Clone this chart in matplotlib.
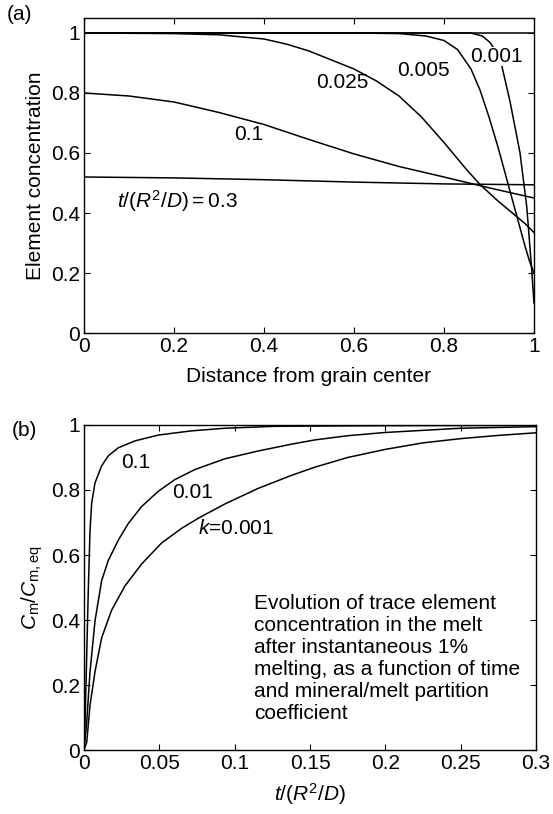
import numpy as np
import matplotlib.pyplot as plt

plt.rcParams['font.family'] = ['Liberation Sans', 'DejaVu Sans']
plt.rcParams['mathtext.fontset'] = 'custom'
plt.rcParams['mathtext.rm'] = 'Liberation Sans'
plt.rcParams['mathtext.it'] = 'Liberation Sans:italic'
plt.rcParams['font.size'] = 15

# (a) concentration profiles across the grain, one per dimensionless time
dist_0 = [0, 1]
conc_0 = [1, 1]

dist_001 = [0, 0.86, 0.885, 0.902, 0.924, 0.947, 0.969, 0.984, 0.995, 1.0]
conc_001 = [1, 1, 0.99, 0.969, 0.92, 0.77, 0.60, 0.42, 0.21, 0.10]

dist_005 = [0, 0.6, 0.7, 0.76, 0.8, 0.83, 0.86, 0.88, 0.9, 0.92, 0.94, 0.96, 0.98, 0.99, 1.0]
conc_005 = [1, 1, 0.998, 0.99, 0.975, 0.945, 0.88, 0.81, 0.72, 0.62, 0.51, 0.40, 0.29, 0.24, 0.20]

dist_025 = [0, 0.2, 0.3, 0.4, 0.45, 0.5, 0.55, 0.6, 0.65, 0.7, 0.75, 0.8, 0.85,
            0.88, 0.92, 0.96, 0.98, 1.0]
conc_025 = [1, 0.998, 0.994, 0.98, 0.963, 0.94, 0.91, 0.88, 0.84, 0.79, 0.72, 0.635, 0.545,
            0.495, 0.44, 0.39, 0.365, 0.335]

dist_1 = [0, 0.1, 0.2, 0.3, 0.4, 0.5, 0.6, 0.7, 0.8, 0.9, 1.0]
conc_1 = [0.80, 0.79, 0.77, 0.735, 0.695, 0.645, 0.597, 0.555, 0.52, 0.484, 0.45]

dist_3 = [0, 0.2, 0.4, 0.6, 0.8, 1.0]
conc_3 = [0.52, 0.517, 0.511, 0.503, 0.497, 0.494]

# (b) melt concentration vs time for three partition coefficients
t_k1 = [0, 0.0007, 0.0018, 0.0029, 0.004, 0.0051, 0.0073, 0.0117, 0.0161, 0.0228,
        0.0338, 0.0493, 0.0714, 0.0935, 0.127, 0.2, 0.3]
cm_k1 = [0, 0.086, 0.293, 0.5, 0.677, 0.76, 0.822, 0.874, 0.905, 0.93,
         0.951, 0.969, 0.982, 0.99, 0.996, 0.998, 0.999]

t_k01 = [0, 0.0018, 0.004, 0.0073, 0.0117, 0.0161, 0.0228, 0.0294, 0.0382, 0.0493,
         0.0603, 0.0736, 0.0935, 0.1156, 0.1377, 0.1531, 0.175, 0.2, 0.25, 0.3]
cm_k01 = [0, 0.086, 0.241, 0.397, 0.521, 0.583, 0.646, 0.697, 0.749, 0.796,
          0.832, 0.863, 0.896, 0.92, 0.941, 0.954, 0.967, 0.977, 0.99, 0.995]

t_k001 = [0, 0.0018, 0.004, 0.0073, 0.0117, 0.0183, 0.0272, 0.0382, 0.0515, 0.0648,
          0.0758, 0.0935, 0.1156, 0.1377, 0.1531, 0.175, 0.2, 0.225, 0.25, 0.275, 0.3]
cm_k001 = [0, 0.024, 0.138, 0.241, 0.345, 0.43, 0.505, 0.572, 0.637, 0.682,
           0.713, 0.757, 0.805, 0.845, 0.87, 0.9, 0.925, 0.945, 0.958, 0.968, 0.976]

note = ('Evolution of trace element\nconcentration in the melt\n'
        'after instantaneous 1%\nmelting, as a function of time\n'
        'and mineral/melt partition\ncoefficient')

fig = plt.figure(figsize=(5.53, 8.14), dpi=100)
ax1 = fig.add_axes([0.1519, 0.5909, 0.8137, 0.3870])
ax2 = fig.add_axes([0.1519, 0.0786, 0.8174, 0.3993])

lw = 1.1
for d, c in [(dist_0, conc_0), (dist_001, conc_001), (dist_005, conc_005),
             (dist_025, conc_025), (dist_1, conc_1), (dist_3, conc_3)]:
    ax1.plot(d, c, color='black', lw=lw)

ax1.text(0.916, 0.92, '0.001', ha='center', va='center', zorder=5,
         bbox=dict(facecolor='white', edgecolor='none', pad=0))
ax1.text(0.754, 0.874, '0.005', ha='center', va='center')
ax1.text(0.573, 0.835, '0.025', ha='center', va='center')
ax1.text(0.365, 0.663, '0.1', ha='center', va='center')
ax1.text(0.073, 0.44, r'$t/(R^2/D)=0.3$', ha='left', va='center')

ax1.set_xlim(0, 1)
ax1.set_ylim(0, 1.05)
ax1.set_xticks([0, 0.2, 0.4, 0.6, 0.8, 1])
ax1.set_xticklabels(['0', '0.2', '0.4', '0.6', '0.8', '1'])
ax1.set_yticks([0, 0.2, 0.4, 0.6, 0.8, 1])
ax1.set_yticklabels(['0', '0.2', '0.4', '0.6', '0.8', '1'])
ax1.set_xlabel('Distance from grain center', labelpad=8)
ax1.set_ylabel('Element concentration', labelpad=4)

for t, c in [(t_k1, cm_k1), (t_k01, cm_k01), (t_k001, cm_k001)]:
    ax2.plot(t, c, color='black', lw=lw)

ax2.text(0.034, 0.884, '0.1', ha='center', va='center')
ax2.text(0.072, 0.791, '0.01', ha='center', va='center')
ax2.text(0.0755, 0.68, r'$k$=0.001', ha='left', va='center')
ax2.text(0.113, 0.48, note, ha='left', va='top', linespacing=1.2)

ax2.set_xlim(0, 0.3)
ax2.set_ylim(0, 1)
ax2.set_xticks([0, 0.05, 0.1, 0.15, 0.2, 0.25, 0.3])
ax2.set_xticklabels(['0', '0.05', '0.1', '0.15', '0.2', '0.25', '0.3'])
ax2.set_yticks([0, 0.2, 0.4, 0.6, 0.8, 1])
ax2.set_yticklabels(['0', '0.2', '0.4', '0.6', '0.8', '1'])
ax2.set_xlabel(r'$t/(R^2/D)$', labelpad=6)
ax2.set_ylabel(r'$C_\mathrm{m}/C_\mathrm{m,eq}$', labelpad=4)

for ax in (ax1, ax2):
    ax.tick_params(direction='in', top=True, right=True, length=4, width=0.8, pad=3)
    for s in ax.spines.values():
        s.set_linewidth(1.0)

fig.text(20 / 553, 1 - 15 / 814, '(a)', ha='center', va='center')
fig.text(24 / 553, 1 - 430 / 814, '(b)', ha='center', va='center')

fig.savefig('out.png', dpi=100)
